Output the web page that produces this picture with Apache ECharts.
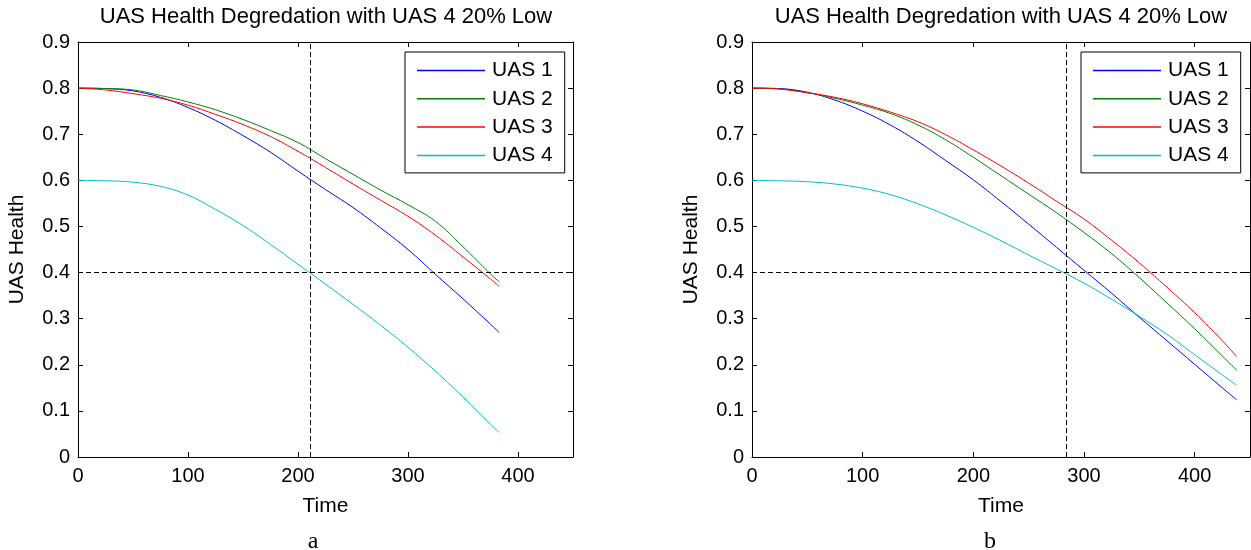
<!DOCTYPE html>
<html>
<head>
<meta charset="utf-8">
<script src="https://cdn.jsdelivr.net/npm/echarts@6/dist/echarts.min.js"></script>
<style>
  html, body { margin: 0; padding: 0; background: #fff; }
  #main { width: 1251px; height: 550px; }
</style>
</head>
<body>
<div id="main"></div>
<script>
// panel a
const leftTime = [0, 25, 50, 75, 100, 125, 150, 175, 200, 225, 250, 275, 300, 325, 350, 375, 383];
const leftUAS1 = [0.800, 0.799, 0.794, 0.780, 0.758, 0.730, 0.697, 0.661, 0.620, 0.580, 0.541, 0.497, 0.450, 0.396, 0.343, 0.288, 0.270];
const leftUAS2 = [0.800, 0.799, 0.796, 0.784, 0.770, 0.753, 0.732, 0.708, 0.682, 0.647, 0.613, 0.579, 0.547, 0.511, 0.456, 0.397, 0.380];
const leftUAS3 = [0.800, 0.796, 0.788, 0.778, 0.763, 0.743, 0.721, 0.695, 0.663, 0.628, 0.592, 0.557, 0.522, 0.481, 0.434, 0.386, 0.370];
const leftUAS4 = [0.600, 0.599, 0.596, 0.587, 0.568, 0.537, 0.502, 0.461, 0.418, 0.375, 0.331, 0.286, 0.238, 0.186, 0.130, 0.071, 0.053];
const leftMarkerTime = 211;

// panel b
const rightTime = [0, 25, 50, 75, 100, 125, 150, 175, 200, 225, 250, 275, 300, 325, 350, 375, 400, 425, 438];
const rightUAS1 = [0.800, 0.799, 0.791, 0.774, 0.750, 0.720, 0.684, 0.643, 0.601, 0.554, 0.505, 0.455, 0.405, 0.355, 0.303, 0.252, 0.201, 0.150, 0.124];
const rightUAS2 = [0.800, 0.798, 0.790, 0.778, 0.763, 0.745, 0.720, 0.688, 0.650, 0.610, 0.570, 0.530, 0.487, 0.441, 0.389, 0.334, 0.278, 0.219, 0.188];
const rightUAS3 = [0.800, 0.798, 0.790, 0.780, 0.766, 0.748, 0.727, 0.699, 0.666, 0.631, 0.594, 0.555, 0.516, 0.470, 0.421, 0.368, 0.313, 0.252, 0.218];
const rightUAS4 = [0.600, 0.599, 0.597, 0.592, 0.583, 0.569, 0.549, 0.525, 0.498, 0.469, 0.438, 0.408, 0.377, 0.342, 0.305, 0.266, 0.222, 0.178, 0.155];
const rightMarkerTime = 284;

const healthThreshold = 0.4;
const names = ['UAS 1', 'UAS 2', 'UAS 3', 'UAS 4'];
const colors = ['#0000ff', '#008000', '#ff0000', '#00bfbf'];
const titleText = 'UAS Health Degredation with UAS 4 20% Low';

const font = 'Liberation Sans, Arial, sans-serif';
const myChart = echarts.init(document.getElementById('main'));

function pairs(xs, ys) {
    return xs.map((x, i) => [x, ys[i]]);
}

function xAxes(gridIndex) {
    const base = {
        gridIndex: gridIndex,
        type: 'value',
        min: 0,
        max: 450,
        interval: 100,
        splitLine: { show: false },
        axisLine: { show: true, onZero: false, lineStyle: { color: '#000', width: 1 } },
        axisTick: { show: true, inside: true, length: 5, lineStyle: { color: '#000' } }
    };
    return [
        Object.assign({}, base, {
            position: 'bottom',
            name: 'Time',
            nameLocation: 'middle',
            nameGap: 39,
            nameTextStyle: { fontFamily: font, fontSize: 21, color: '#000' },
            axisLabel: { fontFamily: font, fontSize: 20, color: '#000', margin: 9, showMaxLabel: false }
        }),
        Object.assign({}, base, { position: 'top', axisLabel: { show: false } })
    ];
}

function yAxes(gridIndex) {
    const base = {
        gridIndex: gridIndex,
        type: 'value',
        min: 0,
        max: 0.9,
        interval: 0.1,
        splitLine: { show: false },
        axisLine: { show: true, onZero: false, lineStyle: { color: '#000', width: 1 } },
        axisTick: { show: true, inside: true, length: 5, lineStyle: { color: '#000' } }
    };
    return [
        Object.assign({}, base, {
            position: 'left',
            name: 'UAS Health',
            nameLocation: 'middle',
            nameGap: 50,
            nameTextStyle: { fontFamily: font, fontSize: 21, color: '#000' },
            axisLabel: {
                fontFamily: font, fontSize: 20, color: '#000', margin: 8,
                formatter: v => String(+v.toFixed(1))
            }
        }),
        Object.assign({}, base, { position: 'right', axisLabel: { show: false } })
    ];
}

function markLines(markerTime) {
    return {
        silent: true,
        symbol: ['none', 'none'],
        label: { show: false },
        lineStyle: { color: '#000', type: [5, 3], width: 1 },
        data: [{ yAxis: healthThreshold }, { xAxis: markerTime }]
    };
}

function seriesFor(axisIndex, xs, lists, markerTime) {
    return lists.map((ys, i) => {
        const s = {
            name: names[i],
            type: 'line',
            xAxisIndex: axisIndex,
            yAxisIndex: axisIndex,
            data: pairs(xs, ys),
            symbol: 'none',
            smooth: 0.4,
            color: colors[i],
            lineStyle: { width: 1, color: colors[i] },
            animation: false
        };
        if (i === 0) s.markLine = markLines(markerTime);
        return s;
    });
}

function legendAt(left) {
    return {
        data: names.map(n => ({ name: n, icon: 'rect' })),
        orient: 'vertical',
        left: left,
        top: 52,
        itemWidth: 68,
        itemHeight: 1.5,
        itemGap: 7.3,
        padding: [8, 12, 7, 12],
        backgroundColor: '#fff',
        borderColor: '#000',
        borderWidth: 1,
        selectedMode: false,
        textStyle: { fontFamily: font, fontSize: 21, color: '#000', lineHeight: 21, padding: [0, 0, 0, 2] }
    };
}

const titleStyle = { fontFamily: font, fontSize: 22, fontWeight: 'normal', color: '#000' };
const captionStyle = { fontFamily: 'Liberation Serif, serif', fontSize: 24, fontWeight: 'normal', color: '#000' };

myChart.setOption({
    animation: false,
    title: [
        { text: titleText, left: 321, top: 1, textAlign: 'center', textStyle: titleStyle },
        { text: titleText, left: 996, top: 1, textAlign: 'center', textStyle: titleStyle },
        { text: 'a', left: 308, top: 525, textAlign: 'center', textStyle: captionStyle },
        { text: 'b', left: 985, top: 525, textAlign: 'center', textStyle: captionStyle }
    ],
    grid: [
        { left: 78, top: 42, width: 495, height: 415 },
        { left: 752, top: 42, width: 498, height: 415 }
    ],
    legend: [legendAt(405), legendAt(1081)],
    xAxis: [...xAxes(0), ...xAxes(1)],
    yAxis: [...yAxes(0), ...yAxes(1)],
    series: [
        ...seriesFor(0, leftTime, [leftUAS1, leftUAS2, leftUAS3, leftUAS4], leftMarkerTime),
        ...seriesFor(2, rightTime, [rightUAS1, rightUAS2, rightUAS3, rightUAS4], rightMarkerTime)
    ]
});
</script>
</body>
</html>
